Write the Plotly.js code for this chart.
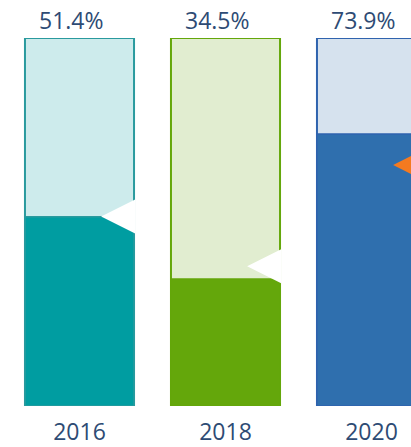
<!DOCTYPE html>
<html>
<head>
<meta charset="utf-8">
<script src="https://cdn.plot.ly/plotly-3.0.1.min.js"></script>
<style>html,body{margin:0;padding:0;background:#fff;}#chart{width:411px;height:447px;}</style>
</head>
<body>
<div id="chart"></div>
<script>
// Data
var years = ['2016', '2018', '2020'];
var shares = [51.4, 34.5, 73.9];
var markerValues = [51.5, 38.0, 65.5];
var labels = ['51.4%', '34.5%', '73.9%'];

// Styles
var lightColors = ['#CDEBEC', '#E1EDD0', '#D6E2EE'];
var darkColors = ['#009DA1', '#64A70B', '#2F6FAE'];
var borderColors = ['#2A9A9E', '#64A70B', '#2F63AE'];
var markerColors = ['#FFFFFF', '#FFFFFF', '#F47A20'];
var textColor = '#2E4B74';

var idx = years.map(function (_, i) { return i; });
var full = years.map(function () { return 100; });
var barWidth = 0.747;
var markerOffset = 0.148;

var traces = [
  {
    type: 'bar', x: idx, y: full, width: barWidth,
    marker: { color: lightColors, line: { color: borderColors, width: 2 } },
    hoverinfo: 'skip'
  },
  {
    type: 'bar', x: idx, y: shares, width: barWidth,
    marker: { color: darkColors, line: { color: borderColors, width: 1.5 } },
    hoverinfo: 'skip'
  },
  {
    type: 'scatter', mode: 'markers',
    x: idx.map(function (i) { return i + markerOffset; }),
    y: markerValues,
    marker: { symbol: 'arrow-left', size: 34, color: markerColors, line: { width: 0 } },
    hoverinfo: 'skip', cliponaxis: true
  }
];

var annotations = idx.map(function (i) {
  return {
    x: i, y: 100, xref: 'x', yref: 'y', text: labels[i],
    showarrow: false, xanchor: 'center', yanchor: 'bottom', xshift: -8, yshift: 0,
    font: { family: 'Open Sans', size: 23, color: textColor }
  };
});

var layout = {
  width: 411, height: 447,
  margin: { l: 0, r: 0, t: 38, b: 41, pad: 0 },
  barmode: 'overlay',
  showlegend: false,
  paper_bgcolor: '#FFFFFF', plot_bgcolor: '#FFFFFF',
  xaxis: {
    range: [-0.5445, 2.2705], tickvals: idx, ticktext: years,
    showgrid: false, zeroline: false, showline: false, ticks: '',
    ticklabelstandoff: 10,
    tickfont: { family: 'Open Sans', size: 23, color: textColor }, fixedrange: true
  },
  yaxis: {
    range: [0, 100], showgrid: false, zeroline: false, showline: false,
    showticklabels: false, ticks: '', fixedrange: true
  },
  annotations: annotations,
  hovermode: false
};

Plotly.newPlot('chart', traces, layout, { displayModeBar: false, staticPlot: true });
</script>
</body>
</html>
